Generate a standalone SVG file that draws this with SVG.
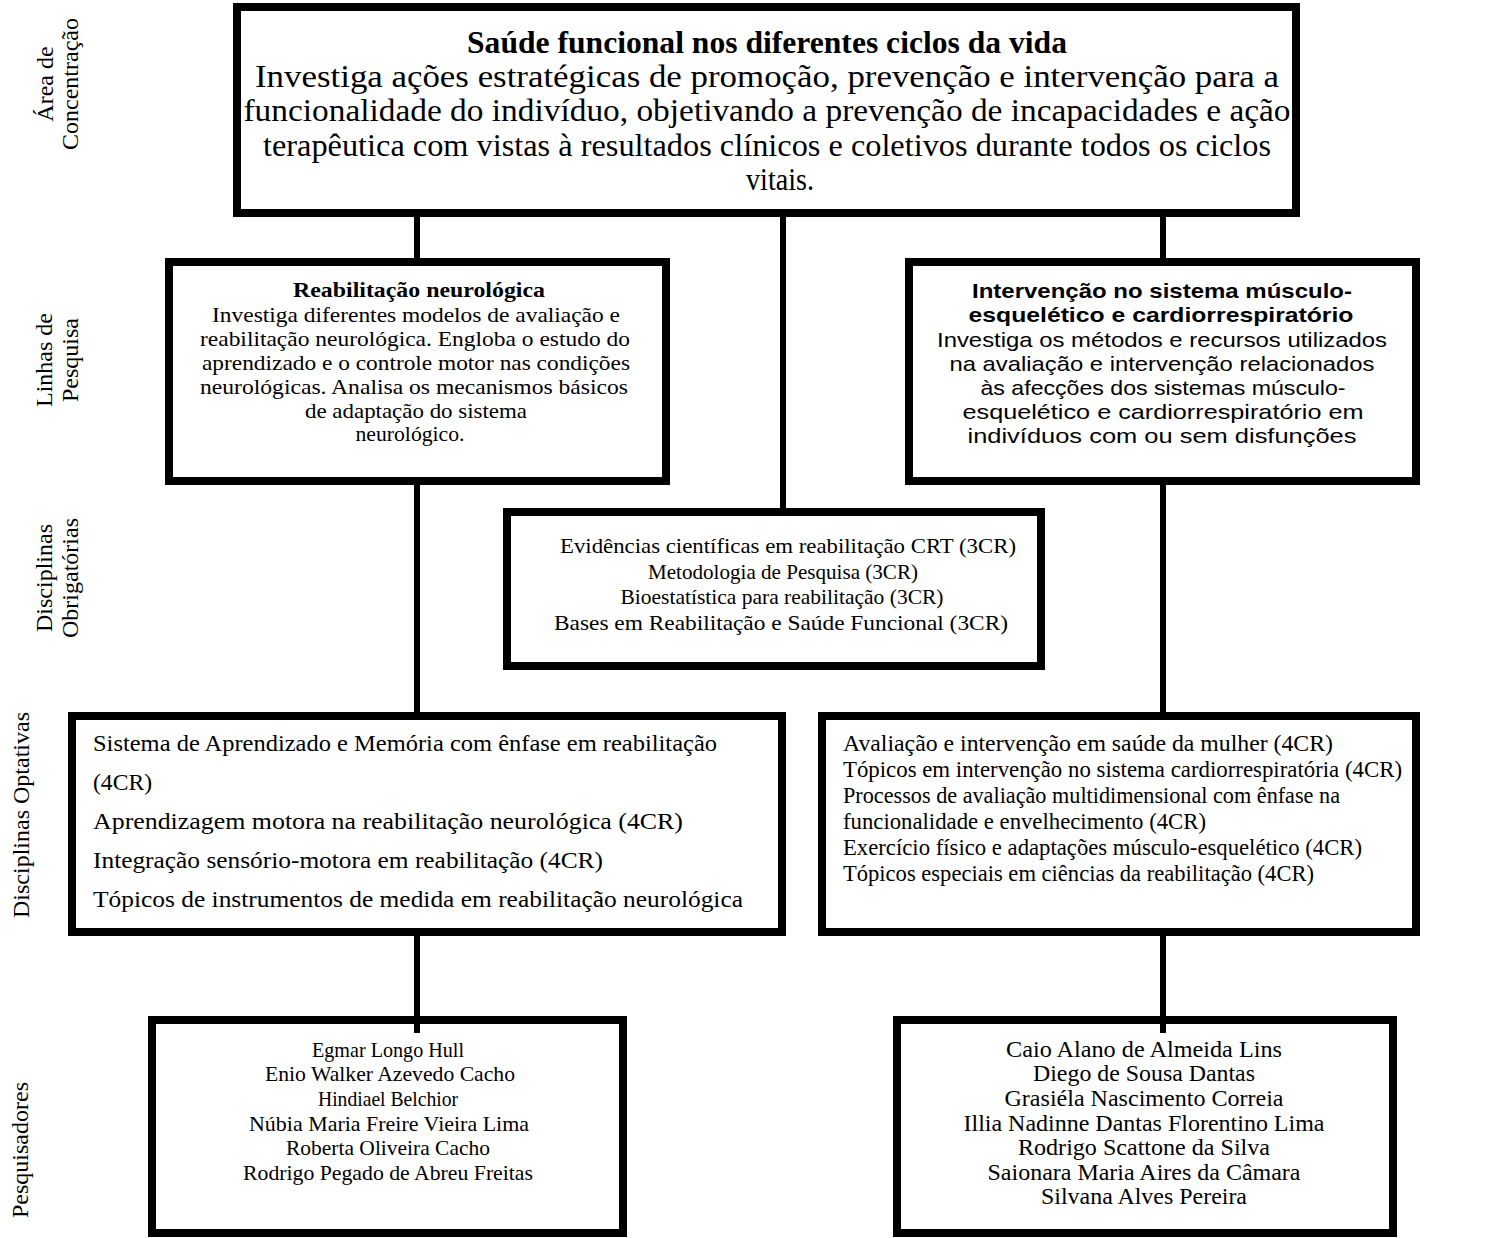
<svg xmlns="http://www.w3.org/2000/svg" width="1485" height="1238" viewBox="0 0 1485 1238">
<style>
.box{fill:#fff;stroke:#000;stroke-width:8}
.conn{stroke:#000;stroke-width:6;fill:none}
.s{font-family:"Liberation Serif","Times New Roman",serif;fill:#000}
.a{font-family:"Liberation Sans",Arial,sans-serif;fill:#000}
.c{text-anchor:middle}
.b{font-weight:bold}
.lab{font-size:24px;text-anchor:middle}
</style>
<rect width="1485" height="1238" fill="#fff"/>
<g id="labels" class="s">
<text class="lab" transform="translate(53,84) rotate(-90)">Área de</text>
<text class="lab" transform="translate(78,84) rotate(-90)">Concentração</text>
<text class="lab" transform="translate(52,360) rotate(-90)">Linhas de</text>
<text class="lab" transform="translate(78,360) rotate(-90)">Pesquisa</text>
<text class="lab" transform="translate(52,578) rotate(-90)">Disciplinas</text>
<text class="lab" transform="translate(78,578) rotate(-90)">Obrigatórias</text>
<text class="lab" transform="translate(29,815) rotate(-90)">Disciplinas Optativas</text>
<text class="lab" transform="translate(28,1150) rotate(-90)">Pesquisadores</text>
</g>
<g id="area">
<rect class="box" x="237" y="7" width="1059" height="206"/>
<g class="s c" font-size="31">
<text class="b" x="767" y="53" textLength="600" lengthAdjust="spacingAndGlyphs">Saúde funcional nos diferentes ciclos da vida</text>
<text x="767" y="87" textLength="1024" lengthAdjust="spacingAndGlyphs">Investiga ações estratégicas de promoção, prevenção e intervenção para a</text>
<text x="767" y="121" textLength="1047" lengthAdjust="spacingAndGlyphs">funcionalidade do indivíduo, objetivando a prevenção de incapacidades e ação</text>
<text x="767" y="156" textLength="1008" lengthAdjust="spacingAndGlyphs">terapêutica com vistas à resultados clínicos e coletivos durante todos os ciclos</text>
<text x="780" y="190" textLength="68" lengthAdjust="spacingAndGlyphs">vitais.</text>
</g>
</g>
<g id="linha-neuro">
<rect class="box" x="169" y="262" width="497" height="219"/>
<g class="s c" font-size="22">
<text class="b" x="419" y="297" textLength="252" lengthAdjust="spacingAndGlyphs">Reabilitação neurológica</text>
<text x="416" y="322" textLength="408" lengthAdjust="spacingAndGlyphs">Investiga diferentes modelos de avaliação e</text>
<text x="415" y="346" textLength="430" lengthAdjust="spacingAndGlyphs">reabilitação neurológica. Engloba o estudo do</text>
<text x="416" y="370" textLength="428" lengthAdjust="spacingAndGlyphs">aprendizado e o controle motor nas condições</text>
<text x="414" y="394" textLength="428" lengthAdjust="spacingAndGlyphs">neurológicas. Analisa os mecanismos básicos</text>
<text x="416" y="418" textLength="222" lengthAdjust="spacingAndGlyphs">de adaptação do sistema</text>
<text x="410" y="441" textLength="109" lengthAdjust="spacingAndGlyphs">neurológico.</text>
</g>
</g>
<g id="linha-musculo">
<rect class="box" x="909" y="262" width="507" height="219"/>
<g class="a c" font-size="21">
<text class="b" x="1162" y="298" textLength="380" lengthAdjust="spacingAndGlyphs">Intervenção no sistema músculo-</text>
<text class="b" x="1161" y="322" textLength="385" lengthAdjust="spacingAndGlyphs">esquelético e cardiorrespiratório</text>
<text x="1162" y="347" textLength="450" lengthAdjust="spacingAndGlyphs">Investiga os métodos e recursos utilizados</text>
<text x="1162" y="371" textLength="425" lengthAdjust="spacingAndGlyphs">na avaliação e intervenção relacionados</text>
<text x="1163" y="395" textLength="365" lengthAdjust="spacingAndGlyphs">às afecções dos sistemas músculo-</text>
<text x="1163" y="419" textLength="401" lengthAdjust="spacingAndGlyphs">esquelético e cardiorrespiratório em</text>
<text x="1162" y="443" textLength="389" lengthAdjust="spacingAndGlyphs">indivíduos com ou sem disfunções</text>
</g>
</g>
<g id="obrigatorias">
<rect class="box" x="507" y="512" width="534" height="154"/>
<g class="s c" font-size="22">
<text x="788" y="553" textLength="456" lengthAdjust="spacingAndGlyphs">Evidências científicas em reabilitação CRT (3CR)</text>
<text x="783" y="579" textLength="270" lengthAdjust="spacingAndGlyphs">Metodologia de Pesquisa (3CR)</text>
<text x="782" y="604" textLength="323" lengthAdjust="spacingAndGlyphs">Bioestatística para reabilitação (3CR)</text>
<text x="781" y="630" textLength="454" lengthAdjust="spacingAndGlyphs">Bases em Reabilitação e Saúde Funcional (3CR)</text>
</g>
</g>
<g id="optativas-neuro">
<rect class="box" x="72" y="716" width="710" height="216"/>
<g class="s" font-size="24">
<text x="93" y="751" textLength="624" lengthAdjust="spacingAndGlyphs">Sistema de Aprendizado e Memória com ênfase em reabilitação</text>
<text x="93" y="790" textLength="59" lengthAdjust="spacingAndGlyphs">(4CR)</text>
<text x="93" y="829" textLength="590" lengthAdjust="spacingAndGlyphs">Aprendizagem motora na reabilitação neurológica (4CR)</text>
<text x="93" y="868" textLength="510" lengthAdjust="spacingAndGlyphs">Integração sensório-motora em reabilitação (4CR)</text>
<text x="93" y="907" textLength="650" lengthAdjust="spacingAndGlyphs">Tópicos de instrumentos de medida em reabilitação neurológica</text>
</g>
</g>
<g id="optativas-musculo">
<rect class="box" x="822" y="716" width="594" height="216"/>
<g class="s" font-size="23">
<text x="843" y="751" textLength="490" lengthAdjust="spacingAndGlyphs">Avaliação e intervenção em saúde da mulher (4CR)</text>
<text x="843" y="777" textLength="559" lengthAdjust="spacingAndGlyphs">Tópicos em intervenção no sistema cardiorrespiratória (4CR)</text>
<text x="843" y="803" textLength="497" lengthAdjust="spacingAndGlyphs">Processos de avaliação multidimensional com ênfase na</text>
<text x="843" y="829" textLength="363" lengthAdjust="spacingAndGlyphs">funcionalidade e envelhecimento (4CR)</text>
<text x="843" y="855" textLength="519" lengthAdjust="spacingAndGlyphs">Exercício físico e adaptações músculo-esquelético (4CR)</text>
<text x="843" y="881" textLength="471" lengthAdjust="spacingAndGlyphs">Tópicos especiais em ciências da reabilitação (4CR)</text>
</g>
</g>
<g id="pesquisadores-neuro">
<rect class="box" x="152" y="1020" width="471" height="213"/>
<g class="s c" font-size="22">
<text x="388" y="1057" textLength="152" lengthAdjust="spacingAndGlyphs">Egmar Longo Hull</text>
<text x="390" y="1081" textLength="250" lengthAdjust="spacingAndGlyphs">Enio Walker Azevedo Cacho</text>
<text x="388" y="1106" textLength="140" lengthAdjust="spacingAndGlyphs">Hindiael Belchior</text>
<text x="389" y="1131" textLength="280" lengthAdjust="spacingAndGlyphs">Núbia Maria Freire Vieira Lima</text>
<text x="388" y="1155" textLength="204" lengthAdjust="spacingAndGlyphs">Roberta Oliveira Cacho</text>
<text x="388" y="1180" textLength="290" lengthAdjust="spacingAndGlyphs">Rodrigo Pegado de Abreu Freitas</text>
</g>
</g>
<g id="pesquisadores-musculo">
<rect class="box" x="897" y="1020" width="496" height="213"/>
<g class="s c" font-size="23">
<text x="1144" y="1057" textLength="276" lengthAdjust="spacingAndGlyphs">Caio Alano de Almeida Lins</text>
<text x="1144" y="1081" textLength="222" lengthAdjust="spacingAndGlyphs">Diego de Sousa Dantas</text>
<text x="1144" y="1106" textLength="279" lengthAdjust="spacingAndGlyphs">Grasiéla Nascimento Correia</text>
<text x="1144" y="1131" textLength="361" lengthAdjust="spacingAndGlyphs">Illia Nadinne Dantas Florentino Lima</text>
<text x="1144" y="1155" textLength="252" lengthAdjust="spacingAndGlyphs">Rodrigo Scattone da Silva</text>
<text x="1144" y="1180" textLength="313" lengthAdjust="spacingAndGlyphs">Saionara Maria Aires da Câmara</text>
<text x="1144" y="1204" textLength="206" lengthAdjust="spacingAndGlyphs">Silvana Alves Pereira</text>
</g>
</g>
<g id="connectors" class="conn">
<line x1="417" y1="215" x2="417" y2="264"/>
<line x1="783" y1="215" x2="783" y2="514"/>
<line x1="1163" y1="215" x2="1163" y2="264"/>
<line x1="417" y1="483" x2="417" y2="718"/>
<line x1="1163" y1="483" x2="1163" y2="718"/>
<line x1="417" y1="934" x2="417" y2="1033"/>
<line x1="1163" y1="934" x2="1163" y2="1033"/>
</g>
</svg>
